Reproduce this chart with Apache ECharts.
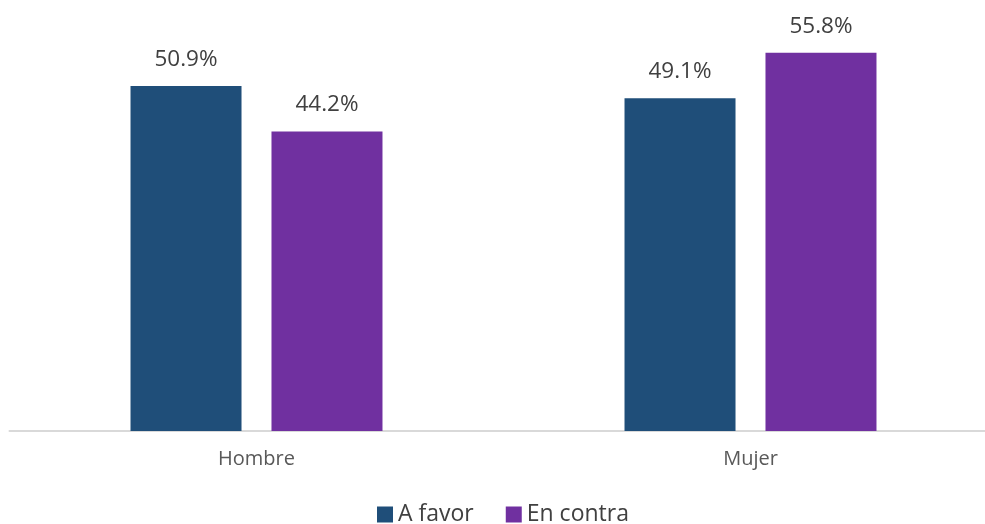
<!DOCTYPE html>
<html><head><meta charset="utf-8">
<script src="https://cdn.jsdelivr.net/npm/echarts@6/dist/echarts.min.js"></script>
<style>html,body{margin:0;padding:0;background:#fff}#c{width:985px;height:524px}</style>
</head><body><div id="c"></div>
<script>
const categories = ['Hombre', 'Mujer'];
const seriesNames = ['A favor', 'En contra'];
const aFavor = [50.9, 49.1];
const enContra = [44.2, 55.8];
const colors = ['#1F4E79', '#7030A0'];
const chart = echarts.init(document.getElementById('c'));
const font = '"Open Sans", sans-serif';
const mk = (name, data, color) => ({
  name, type: 'bar', data, barWidth: 111, barGap: '27%',
  itemStyle: { color },
  label: { show: true, position: 'top', distance: 15, formatter: p => p.value.toFixed(1) + '%',
    color: '#404040', fontSize: 22.5, fontFamily: font }
});
chart.setOption({
  animation: false,
  grid: { left: 9.5, width: 988, top: 24.3, height: 406.7, outerBoundsMode: 'none', containLabel: false },
  legend: { left: 377, top: 503, padding: 0, itemWidth: 16, itemHeight: 16, itemGap: 32, icon: 'rect',
    textStyle: { fontSize: 23, color: '#404040', fontFamily: font },
    data: seriesNames },
  xAxis: { type: 'category', data: categories,
    axisLine: { lineStyle: { color: '#D9D9D9', width: 2 } }, axisTick: { show: false },
    axisLabel: { color: '#595959', fontSize: 20, fontFamily: font, margin: 18 } },
  yAxis: { type: 'value', min: 0, max: 60, show: false, splitLine: { show: false } },
  series: [mk(seriesNames[0], aFavor, colors[0]), mk(seriesNames[1], enContra, colors[1])]
});
</script></body></html>
